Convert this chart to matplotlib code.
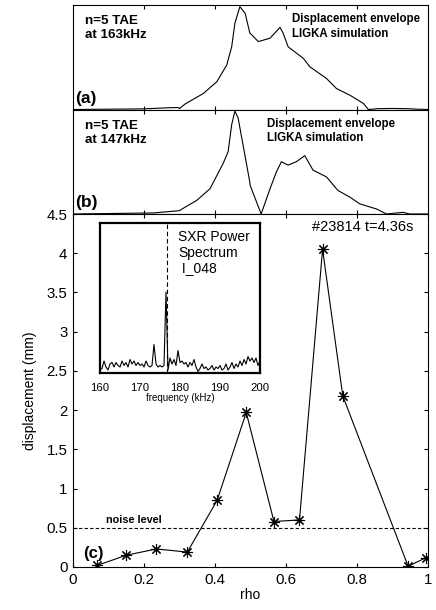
import matplotlib
matplotlib.use("Agg")
import matplotlib.pyplot as plt
from matplotlib.ticker import FuncFormatter

plt.rcParams['font.family'] = ['Liberation Sans', 'DejaVu Sans']

# panel (a): n=5 TAE at 163 kHz, LIGKA displacement envelope (normalised)
rho_a = [0, 0.10, 0.20, 0.226, 0.27, 0.297, 0.30, 0.315, 0.367, 0.405, 0.433, 0.447, 0.456,
         0.47, 0.485, 0.498, 0.522, 0.555, 0.568, 0.583, 0.592, 0.606, 0.649, 0.667, 0.714,
         0.742, 0.780, 0.818, 0.832, 0.86, 0.9, 0.94, 0.97, 1.0]
env_a = [0, 0.003, 0.006, 0.01, 0.017, 0.019, 0.008, 0.051, 0.153, 0.265, 0.425, 0.6, 0.824,
         0.984, 0.92, 0.733, 0.65, 0.682, 0.73, 0.786, 0.73, 0.6, 0.489, 0.409, 0.297,
         0.201, 0.137, 0.058, 0.0, 0.008, 0.01, 0.008, 0.003, 0.0]

# panel (b): n=5 TAE at 147 kHz
rho_b = [0, 0.226, 0.30, 0.315, 0.348, 0.386, 0.423, 0.437, 0.447, 0.456, 0.465, 0.479, 0.498,
         0.499, 0.53, 0.555, 0.573, 0.587, 0.606, 0.629, 0.653, 0.676, 0.714, 0.746, 0.78,
         0.808, 0.855, 0.883, 0.93, 0.948, 1.0]
env_b = [0, 0.01, 0.032, 0.064, 0.129, 0.242, 0.484, 0.597, 0.855, 0.984, 0.92, 0.661, 0.306,
         0.274, 0, 0.242, 0.403, 0.5, 0.468, 0.5, 0.558, 0.42, 0.355, 0.226, 0.161,
         0.097, 0.048, 0, 0.016, 0, 0]

# panel (c): measured displacement, #23814 t=4.36s
rho_c = [0.068, 0.15, 0.235, 0.322, 0.406, 0.488, 0.566, 0.638, 0.703, 0.76, 0.944, 0.995]
disp_c = [0.02, 0.15, 0.23, 0.19, 0.85, 1.97, 0.58, 0.60, 4.05, 2.18, 0.01, 0.12]
noise_level = 0.5

# inset: SXR power spectrum I_048
freq = [160 + 0.5 * i for i in range(81)]
power = [0.02, 0.03, 0.08, 0.04, 0.02, 0.06, 0.07, 0.04, 0.07, 0.05,
         0.04, 0.08, 0.05, 0.07, 0.04, 0.09, 0.06, 0.08, 0.05, 0.07,
         0.05, 0.06, 0.04, 0.08, 0.05, 0.04, 0.05, 0.19, 0.06, 0.04,
         0.05, 0.04, 0.05, 0.54, 0.02, 0.10, 0.06, 0.09, 0.05, 0.15,
         0.07, 0.08, 0.06, 0.07, 0.04, 0.07, 0.05, 0.09, 0.04, 0.01,
         0.03, 0.06, 0.03, 0.04, 0.02, 0.03, 0.05, 0.02, 0.04, 0.03,
         0.05, 0.02, 0.03, 0.06, 0.02, 0.04, 0.07, 0.03, 0.06, 0.04,
         0.08, 0.05, 0.09, 0.06, 0.11, 0.08, 0.10, 0.07, 0.10, 0.05, 0.08]
f_mode = 176.7

W, H = 436, 610
fig = plt.figure(figsize=(W / 100, H / 100), dpi=100)


def box(x0, y0, x1, y1):
    # pixel box (top-left origin) -> figure fraction
    return [x0 / W, 1 - y1 / H, (x1 - x0) / W, (y1 - y0) / H]


ax_a = fig.add_axes(box(73, 5, 428, 109.5))
ax_b = fig.add_axes(box(73, 109.5, 428, 214))
ax_c = fig.add_axes(box(73, 214, 428, 567))
ax_i = fig.add_axes(box(100, 223, 260, 373))

for ax, rr, ee, lab, freq_lab, x_txt in [(ax_a, rho_a, env_a, "(a)", "163kHz", 0.618),
                                          (ax_b, rho_b, env_b, "(b)", "147kHz", 0.546)]:
    ax.plot(rr, ee, color="black", lw=0.8)
    ax.set_xlim(0, 1)
    ax.set_ylim(0, 1)
    ax.set_xticks([0.2, 0.4, 0.6, 0.8])
    ax.set_yticks([])
    ax.tick_params(axis="x", direction="in", top=True, length=3, labelbottom=False)
    ax.text(0.034, 0.9, "n=5 TAE\nat " + freq_lab, transform=ax.transAxes, fontsize=9.6,
            fontweight="bold", va="top", ha="left", linespacing=1.2)
    ax.text(x_txt, 0.92, "Displacement envelope\nLIGKA simulation", transform=ax.transAxes,
            fontsize=8.3, fontweight="bold", va="top", ha="left", linespacing=1.25)
    ax.text(0.006, 0.065, lab, transform=ax.transAxes, fontsize=12.5, fontweight="bold",
            va="baseline", ha="left")
    for s in ax.spines.values():
        s.set_linewidth(0.8)

# main panel
ax_c.plot(rho_c, disp_c, color="black", lw=0.8, marker=(8, 2, 0), ms=8, mew=0.8)
ax_c.axhline(noise_level, color="black", lw=0.8, ls=(0, (3, 2)))
ax_c.set_xlim(0, 1)
ax_c.set_ylim(0, 4.5)
ax_c.set_xticks([0, 0.2, 0.4, 0.6, 0.8, 1])
ax_c.set_yticks([0, 0.5, 1, 1.5, 2, 2.5, 3, 3.5, 4, 4.5])
fmt = FuncFormatter(lambda v, p: "%g" % v)
ax_c.xaxis.set_major_formatter(fmt)
ax_c.yaxis.set_major_formatter(fmt)
ax_c.tick_params(direction="in", top=True, right=True, length=3, labelsize=10.8, pad=4)
ax_c.set_xlabel("rho", fontsize=10, labelpad=1)
ax_c.set_ylabel("displacement (mm)", fontsize=10, labelpad=7)
ax_c.text(0.673, 4.42, "#23814 t=4.36s", fontsize=10.5, va="top", ha="left")
ax_c.text(0.094, 0.53, "noise level", fontsize=7.8, fontweight="bold", va="bottom", ha="left")
ax_c.text(0.028, 0.12, "(c)", fontsize=12, fontweight="bold", va="baseline", ha="left")
for s in ax_c.spines.values():
    s.set_linewidth(0.8)

# inset spectrum
ax_i.plot(freq, power, color="black", lw=0.8)
ax_i.axvline(f_mode, color="black", lw=0.8, ls=(0, (4, 2.5)))
ax_i.set_xlim(160, 200)
ax_i.set_ylim(0, 1)
ax_i.set_xticks([160, 170, 180, 190, 200])
ax_i.set_yticks([])
ax_i.tick_params(axis="x", length=0, labelsize=8.2, pad=7)
ax_i.set_xlabel("frequency (kHz)", fontsize=7, labelpad=0)
ax_i.text(179.5, 0.95, "SXR Power\nSpectrum\n I_048", fontsize=10, va="top", ha="left",
          linespacing=1.1)
for s in ax_i.spines.values():
    s.set_linewidth(1.6)

fig.savefig("out.png", dpi=100)
